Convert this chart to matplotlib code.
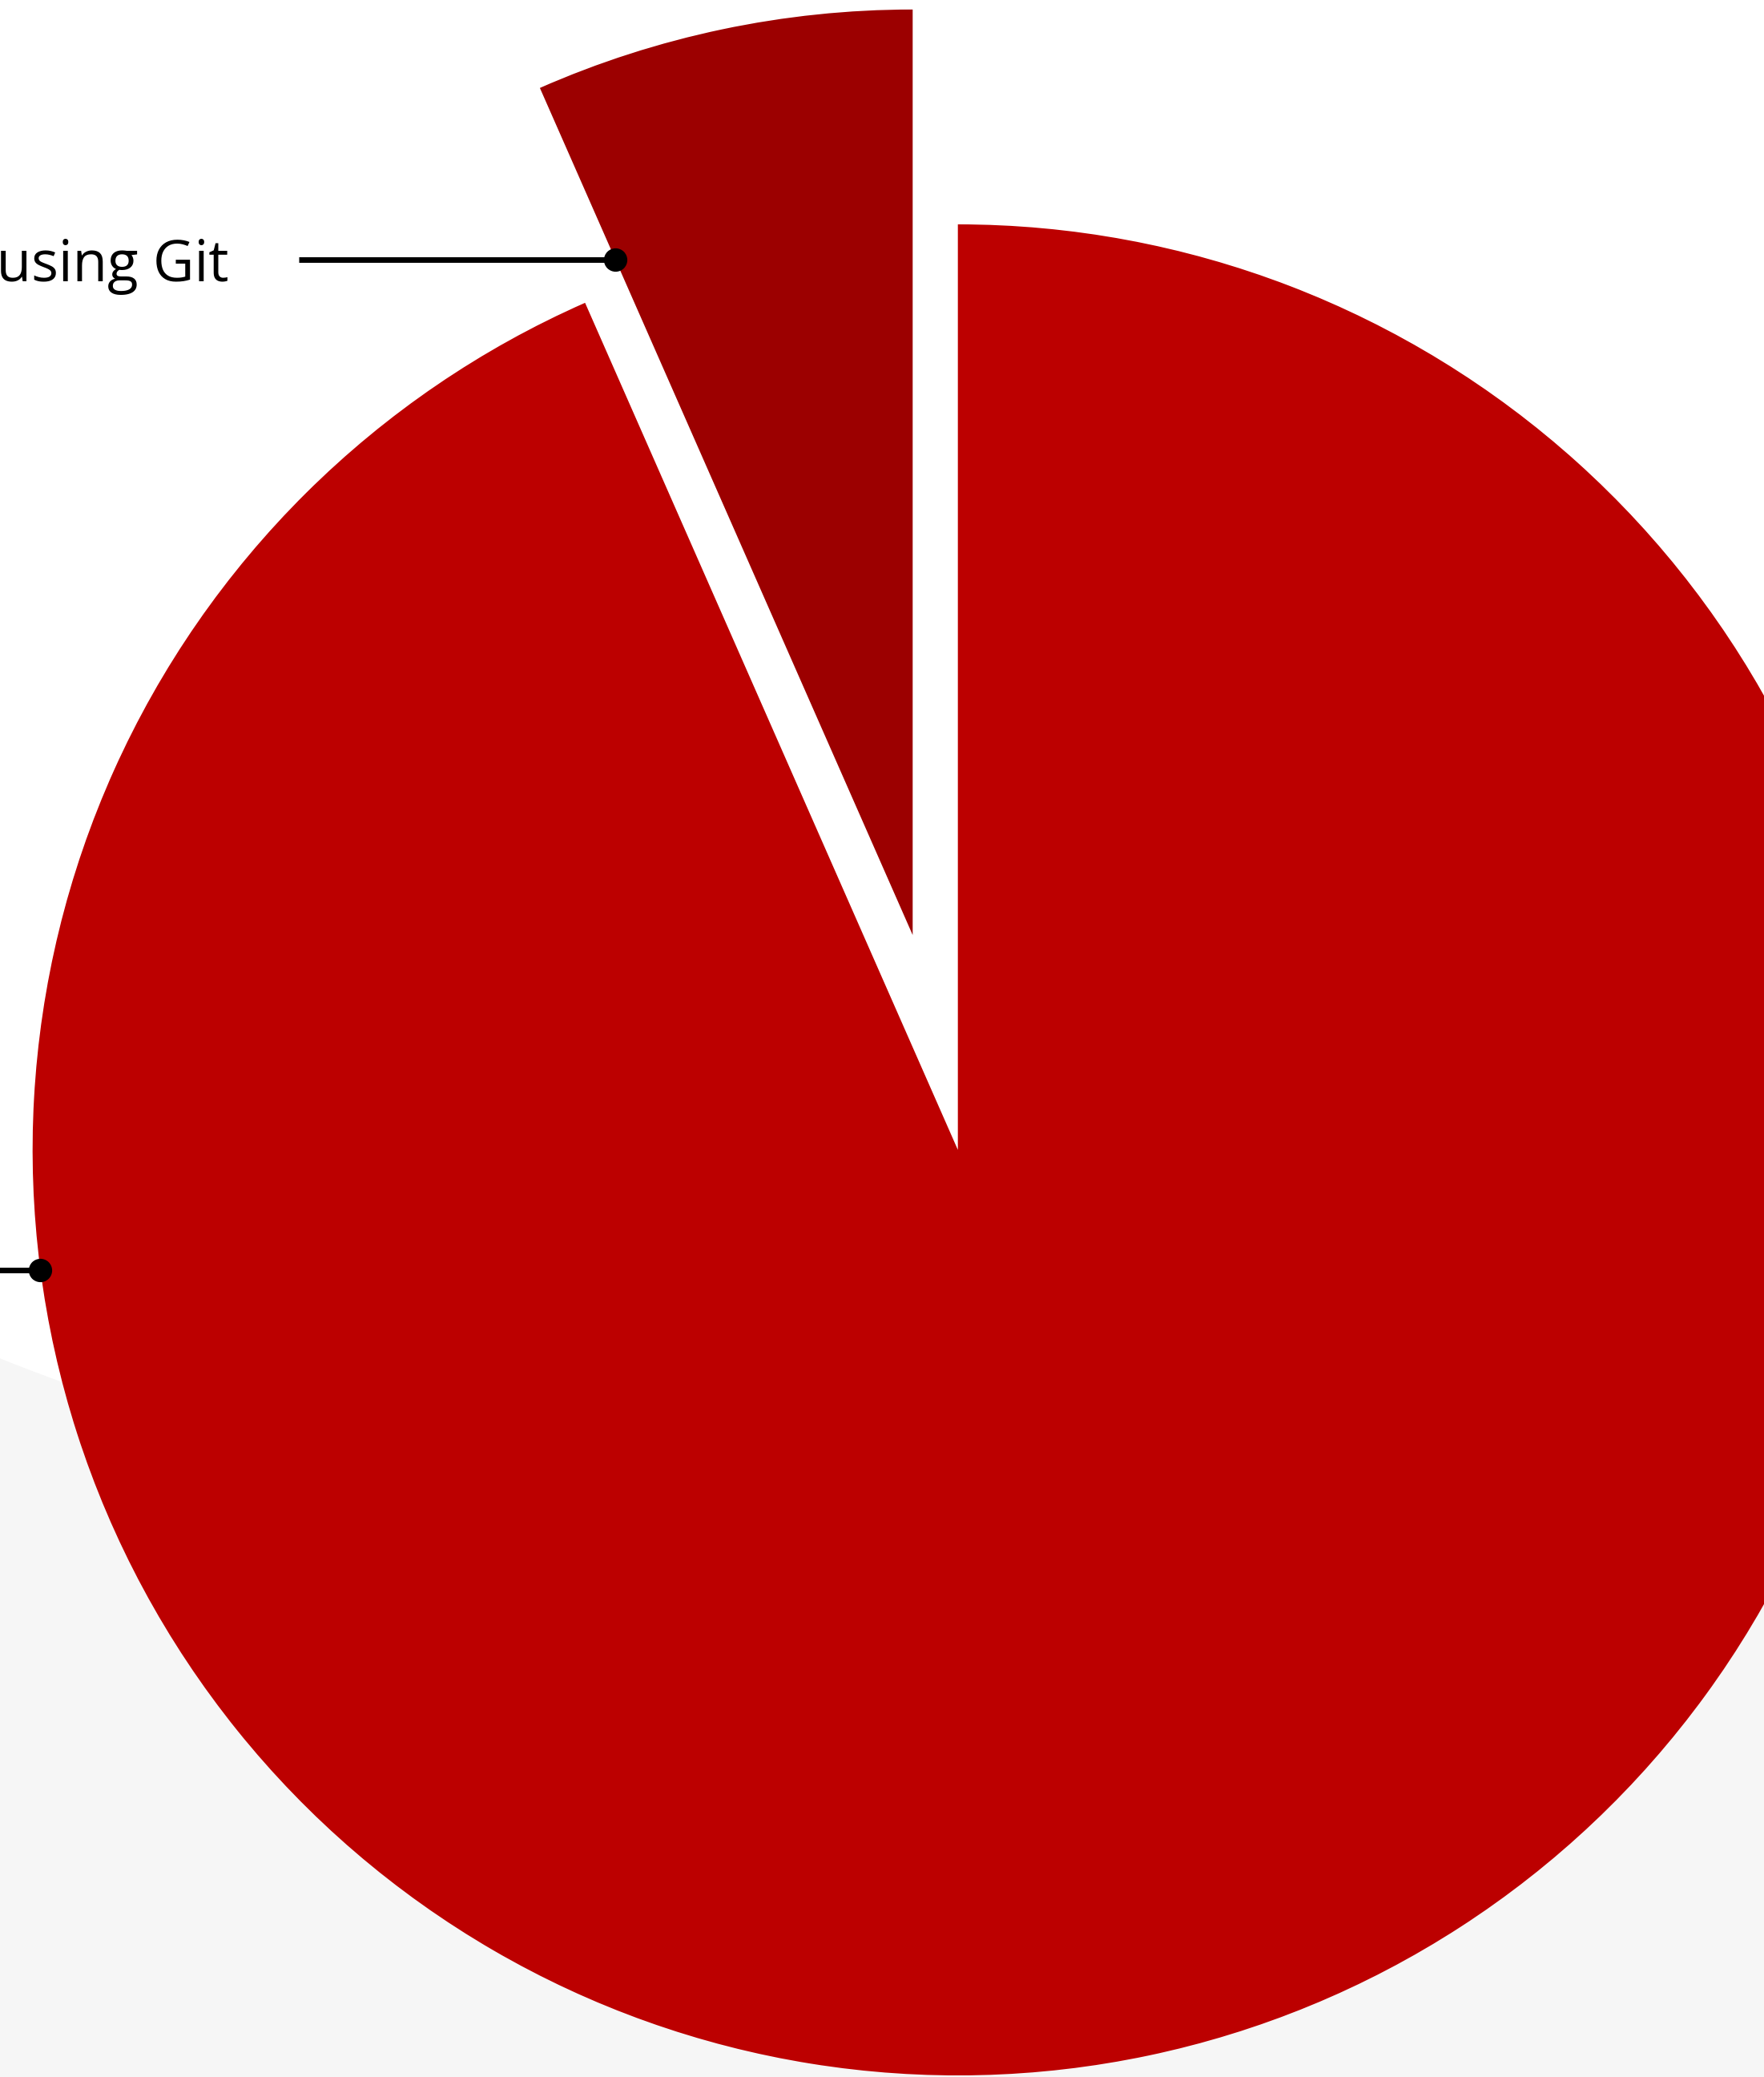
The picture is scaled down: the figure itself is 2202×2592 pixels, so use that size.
import numpy as np
import matplotlib
matplotlib.use("Agg")
import matplotlib.pyplot as plt
from matplotlib.patches import Circle

# data
labels = ["Not using Git", "Using Git"]
shares = [6.6, 93.4]
colors = ["#9c0000", "#bc0000"]
explode = [274, 0]

# label rows (image y, px from top) and leader length
label_y = [324, 1585]
leader_len = 395
text_gap = 88

W, H = 2202, 2592
fig = plt.figure(figsize=(W / 100, H / 100), dpi=100)
fig.patch.set_facecolor("#f6f6f6")
ax = fig.add_axes([0, 0, 1, 1])
ax.set_facecolor("#f6f6f6")

# white backdrop circle
ax.add_patch(Circle((965, H + 719), 2600, facecolor="white", edgecolor="none", zorder=0))

R = 1155
center = (1195.7, H - 1435)
wedges, _ = ax.pie(shares, colors=colors, explode=explode, radius=R, center=center,
                   startangle=90, counterclock=True,
                   wedgeprops=dict(linewidth=0))
for w in wedges:
    w.set_zorder(2)

# leader dots: small slice -> on its left edge, big slice -> on its rim
w0, w1 = wedges
y0 = H - label_y[0]
a0 = np.deg2rad(w0.theta2)
cx0, cy0 = w0.center
x0 = cx0 + (y0 - cy0) / np.tan(a0)

y1 = H - label_y[1]
cx1, cy1 = w1.center
x1 = cx1 - np.sqrt(w1.r ** 2 - (y1 - cy1) ** 2)

for (xd, yd), lab in zip([(x0, y0), (x1, y1)], labels):
    ax.plot([xd - leader_len, xd], [yd, yd], color="black", lw=5, solid_capstyle="butt", zorder=3)
    ax.plot(xd, yd, "o", color="black", ms=20, zorder=4)
    ax.text(xd - leader_len - text_gap, yd, lab, ha="right", va="center_baseline",
            fontsize=51, family="Open Sans", color="black", zorder=4)

ax.set_xlim(0, W)
ax.set_ylim(0, H)
ax.set_aspect("auto")
ax.axis("off")

fig.savefig("out.png", dpi=100, facecolor=fig.get_facecolor())
